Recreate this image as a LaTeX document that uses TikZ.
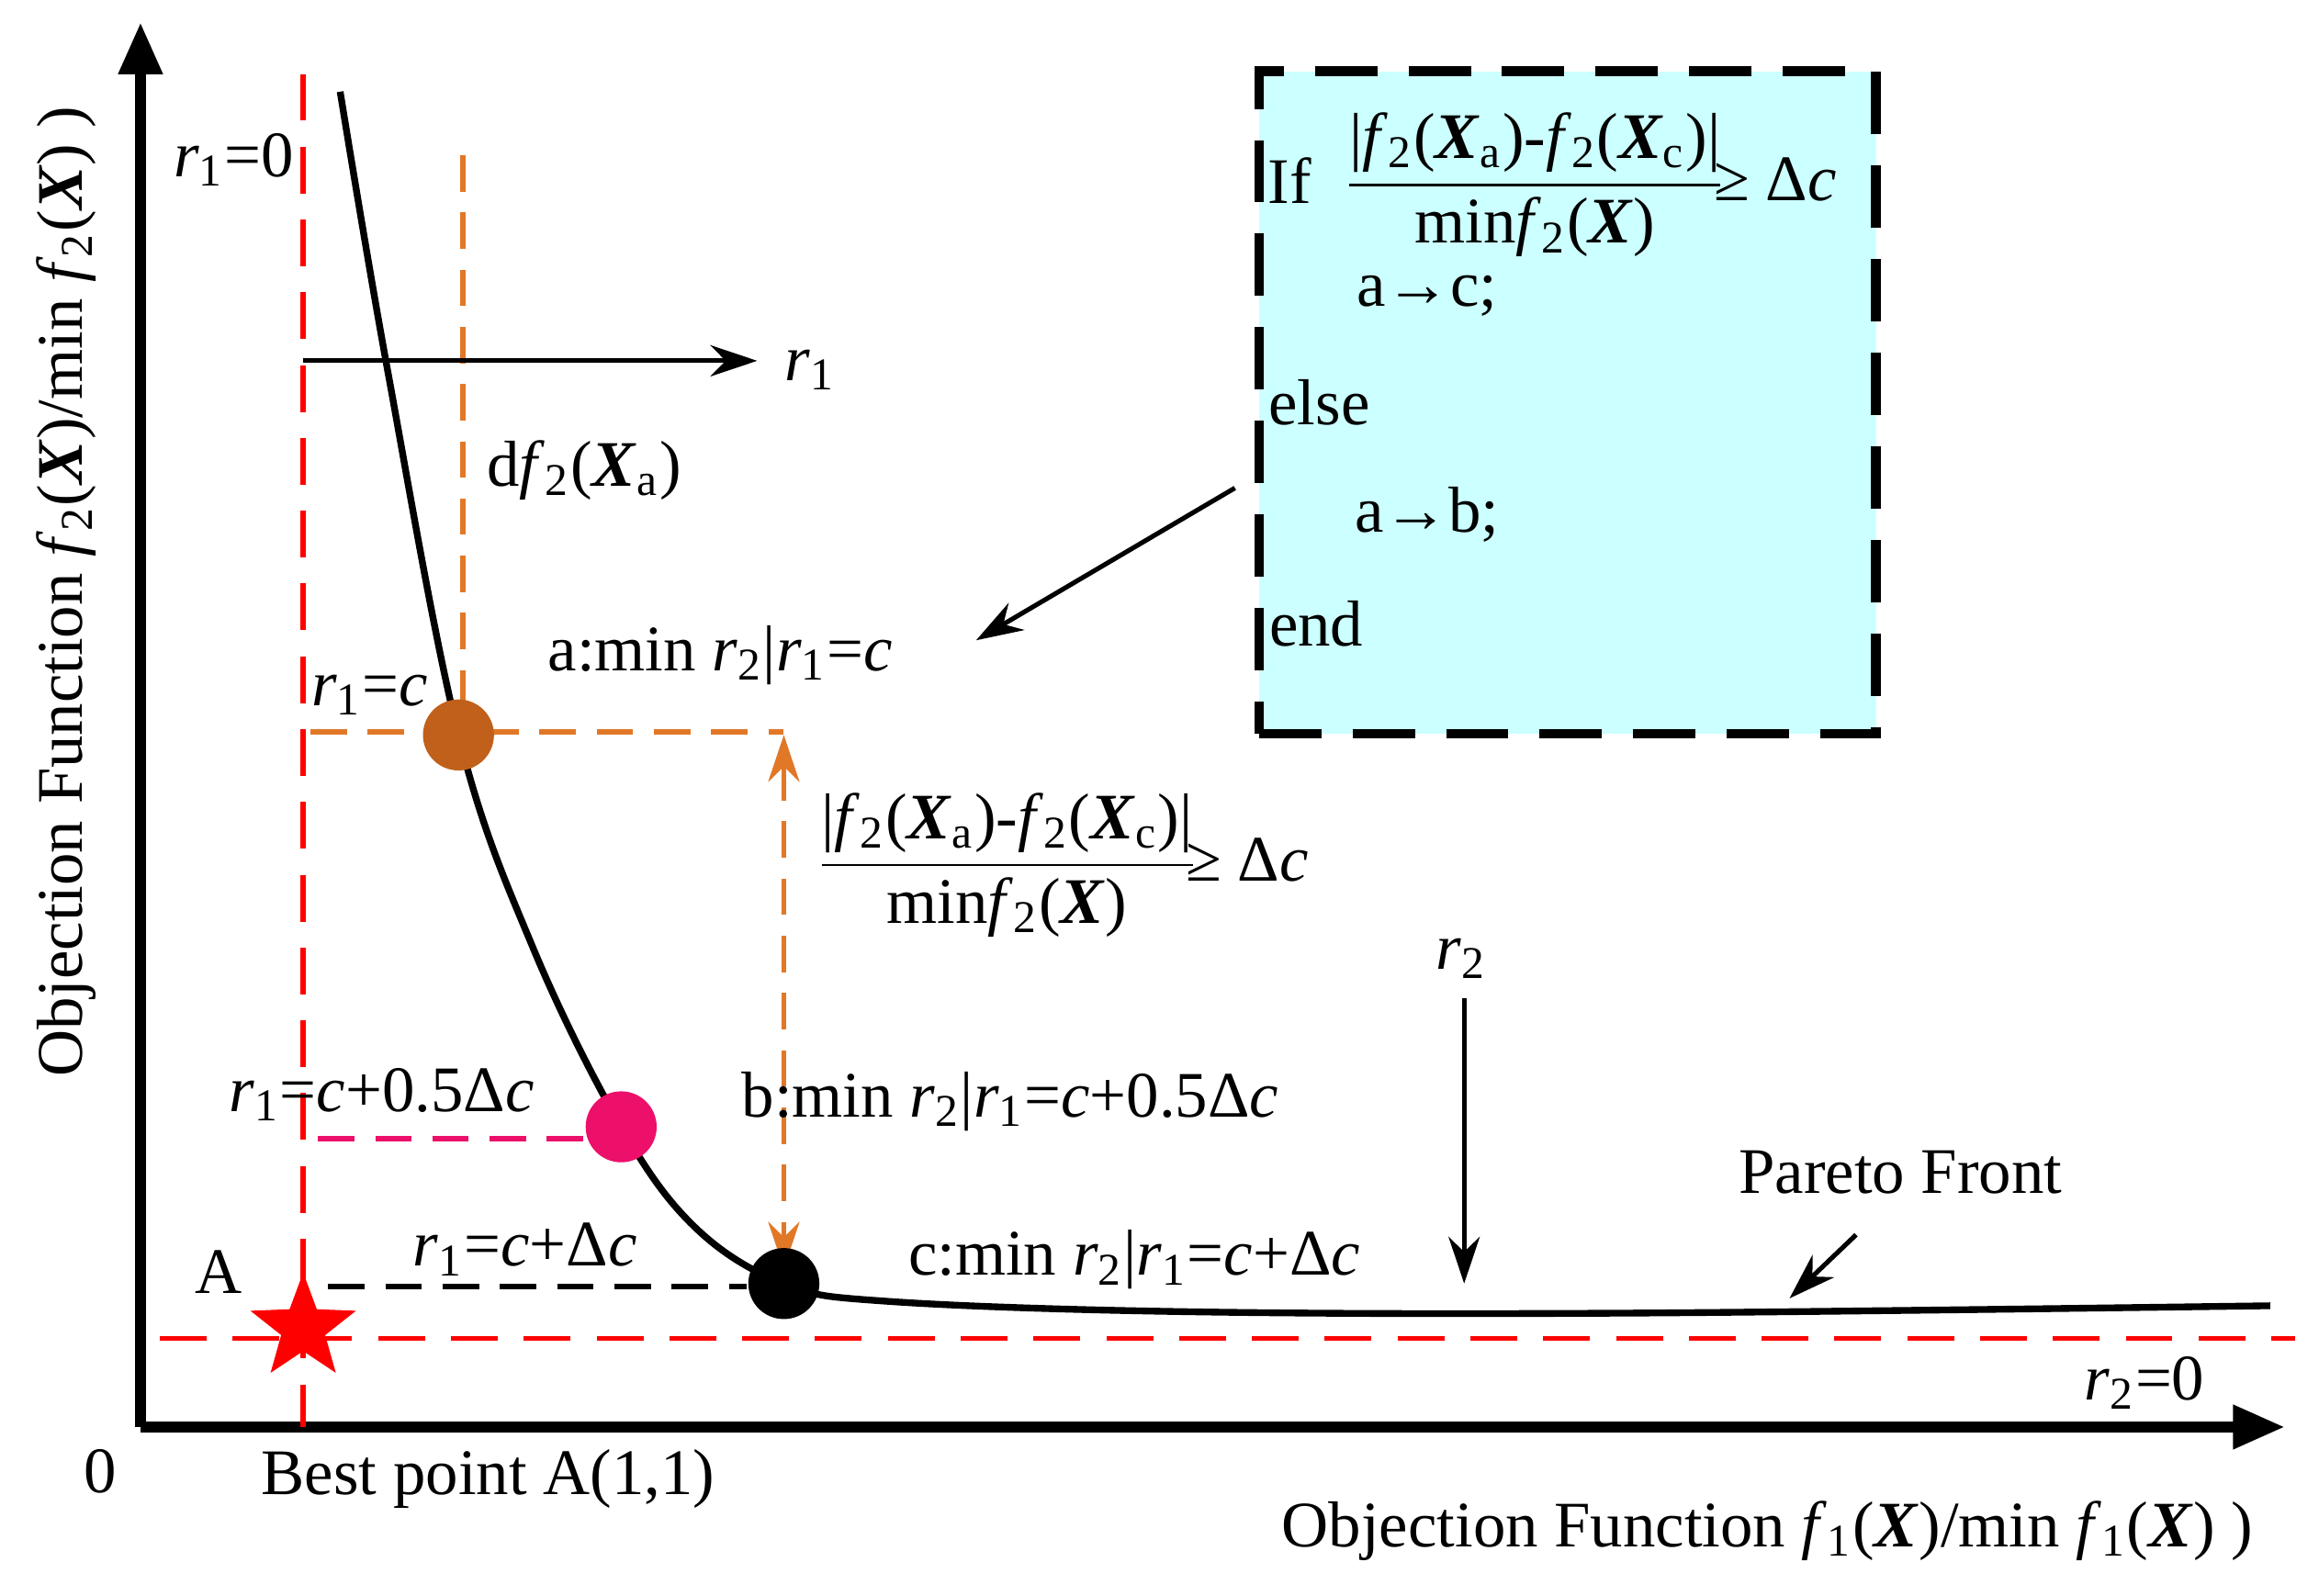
\documentclass[tikz,border=0pt]{standalone}
\usepackage{fontspec}
\setmainfont{Liberation Serif}
\usepackage{amsmath}
\usetikzlibrary{arrows.meta,shapes.geometric}
\definecolor{boxc}{RGB}{204,255,255}
\definecolor{brn}{RGB}{192,96,26}
\definecolor{pnk}{RGB}{236,16,106}
\definecolor{org}{RGB}{225,120,40}
\newcommand\vf[1]{\textit{f}\textsubscript{#1}}
\newcommand\vr[1]{\textit{r}\textsubscript{#1}}
\newcommand\XX{\textbf{\textit{X}}}
\newcommand\cc{\textit{c}}
\newcommand\fracbox{$\dfrac{\text{|\vf{2}(\XX\textsubscript{a})-\vf{2}(\XX\textsubscript{c})|}}{\text{min\vf{2}(\XX)}}$\hspace{-0.2em}≥ Δ\cc}
\tikzset{lbl/.style={font=\fontsize{12.5}{14}\selectfont,inner sep=1pt},
 rdash/.style={red,line width=1pt,dash pattern=on 9pt off 5pt},
 odash/.style={org,line width=1pt,dash pattern=on 7pt off 4pt},
 ax/.style={line width=2.2pt,-{Triangle[length=10pt,width=8pt]}},
 arr/.style={line width=0.9pt,-{Stealth[length=9pt,width=6pt]}}}
\begin{document}
\begin{tikzpicture}[x=0.01cm,y=-0.01cm]
\useasboundingbox (0,0) rectangle (1568,1079);
% box
\node[draw,line width=1.8pt,dash pattern=on 12pt off 6pt,fill=boxc,minimum width=4.17cm,minimum height=4.48cm,anchor=north west] (box) at (848,45) {};
\node[lbl] (if) at (872,122) {If};
\node[lbl] (fr1) at (1075,125) {\fracbox};
\node[lbl] (ac) at (965,200) {a\textbf{→}c;};
\node[lbl] (else) at (892,272) {else};
\node[lbl] (ab) at (965,348) {a\textbf{→}b;};
\node[lbl] (end) at (890,422) {end};
% axes
\coordinate (O) at (95,965);
\coordinate (yt) at (95,15);
\coordinate (xt) at (1545,965);
\draw[ax] (O) -- (yt);
\draw[ax] (O) -- (xt);
\node[lbl] (zero) at (68,995) {0};
\node[lbl,rotate=90] (ylab) at (45,400) {Objection Function \vf{2}(\XX)/min \vf{2}(\XX) )};
\node[lbl] (xlab) at (1195,1035) {Objection Function \vf{1}(\XX)/min \vf{1}(\XX) )};
% red dashed
\coordinate (rv1) at (205,50); \coordinate (rv2) at (205,965);
\draw[rdash] (rv1) -- (rv2);
\coordinate (rh1) at (108,905); \coordinate (rh2) at (1552,905);
\draw[rdash] (rh1) -- (rh2);
\node[lbl] (r10) at (158,108) {\vr{1}=0};
\node[lbl] (r20) at (1450,935) {\vr{2}=0};
% curve
\draw[line width=1.3pt] plot[smooth,tension=0.6] coordinates {(230,62) (262,250) (310,497) (360,640) (420,762) (470,830) (530,868) (600,880) (800,887) (1100,888) (1535,883)};
% orange
\coordinate (ov1) at (313,105); \coordinate (ov2) at (313,497);
\draw[odash] (ov1) -- (ov2);
\coordinate (oh1) at (210,495); \coordinate (oh2) at (530,495);
\draw[odash] (oh1) -- (oh2);
\coordinate (oa1) at (530,497); \coordinate (oa2) at (530,858);
\draw[odash,{Stealth[length=9pt,width=6pt]}-{Stealth[length=9pt,width=6pt]}] (oa1) -- (oa2);
% r1 arrow
\coordinate (ra1) at (205,244); \coordinate (ra2) at (512,244);
\draw[arr] (ra1) -- (ra2);
\node[lbl] (r1) at (548,250) {\vr{1}};
\node[lbl] (df) at (395,318) {d\vf{2}(\XX\textsubscript{a})};
\node[lbl] (alab) at (487,443) {a:min \vr{2}|\vr{1}=\cc};
\node[lbl] (r1c) at (250,470) {\vr{1}=\cc};
% pink / black dashed
\coordinate (ph1) at (215,770); \coordinate (ph2) at (400,770);
\draw[pnk,line width=1pt,dash pattern=on 7pt off 4pt] (ph1) -- (ph2);
\coordinate (bh1) at (222,870); \coordinate (bh2) at (505,870);
\draw[line width=1pt,dash pattern=on 7pt off 4pt] (bh1) -- (bh2);
\node[lbl] (r1b) at (258,740) {\vr{1}=\cc+0.5Δ\cc};
\node[lbl] (blab) at (683,745) {b:min \vr{2}|\vr{1}=\cc+0.5Δ\cc};
\node[lbl] (r1cc) at (355,845) {\vr{1}=\cc+Δ\cc};
\node[lbl] (clab) at (767,852) {c:min \vr{2}|\vr{1}=\cc+Δ\cc};
% points
\fill[brn] (310,497) circle (24);
\fill[pnk] (420,762) circle (24);
\fill[black] (530,868) circle (24);
\node[star,star points=5,star point ratio=2.4,fill=red,minimum size=0.75cm,inner sep=0] (star) at (205,898) {};
\node[lbl] (A) at (148,860) {A};
\node[lbl] (best) at (330,1000) {Best point A(1,1)};
\node[lbl] (fr2) at (718,585) {\fracbox};
% r2 arrow
\node[lbl] (r2) at (988,648) {\vr{2}};
\coordinate (r2a) at (990,675); \coordinate (r2b) at (990,868);
\draw[arr] (r2a) -- (r2b);
\node[lbl] (pf) at (1285,793) {Pareto Front};
\coordinate (pfa) at (1255,835); \coordinate (pfe) at (1210,878);
\draw[arr] (pfa) -- (pfe);
\coordinate (bxa) at (835,330); \coordinate (bxe) at (660,433);
\draw[arr] (bxa) -- (bxe);
\end{tikzpicture}
\end{document}
